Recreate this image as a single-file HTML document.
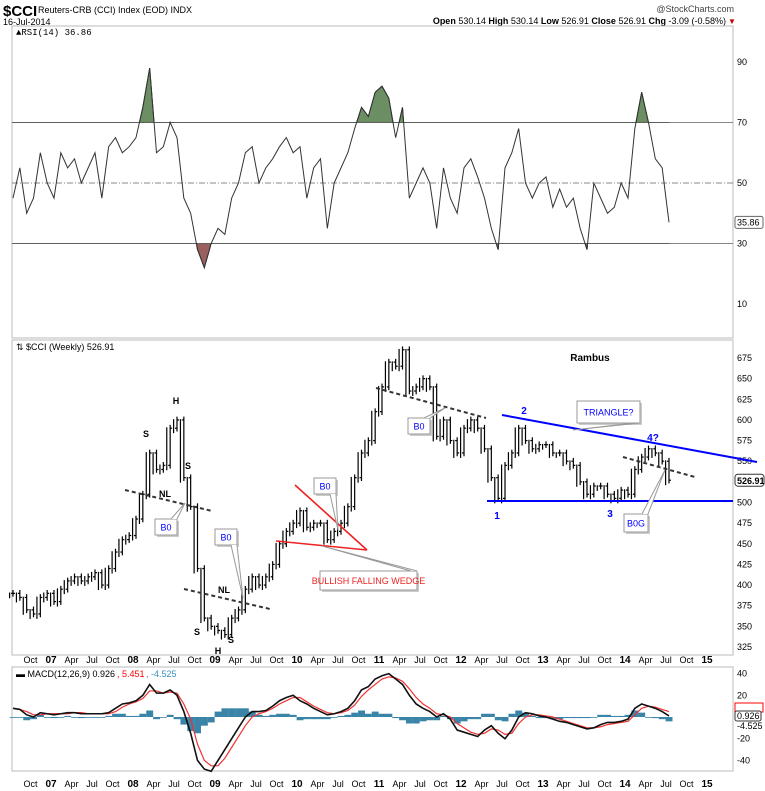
<!DOCTYPE html>
<html><head><meta charset="utf-8"><style>
body{margin:0;background:#fff}
svg{display:block;font-family:"Liberation Sans",sans-serif}
</style></head><body>
<svg id="c" width="765" height="791" viewBox="0 0 765 791">
<text x="3" y="16" font-size="15" font-weight="bold">$CCI</text>
<text x="38" y="13" font-size="9">Reuters-CRB (CCI) Index (EOD) INDX</text>
<text x="3" y="25" font-size="9">16-Jul-2014</text>
<text x="734" y="12" font-size="9" text-anchor="end" fill="#444">@StockCharts.com</text>
<text x="726" y="24" font-size="9" text-anchor="end"><tspan font-weight="bold">Open</tspan> 530.14 <tspan font-weight="bold">High</tspan> 530.14 <tspan font-weight="bold">Low</tspan> 526.91 <tspan font-weight="bold">Close</tspan> 526.91 <tspan font-weight="bold">Chg</tspan> -3.09 (-0.58%)</text>
<text x="728" y="24" font-size="8" fill="#c00">▼</text>
<g id="rsi"></g>
<g id="main"></g>
<g id="macd"></g>
<g id="ann"></g>
</svg>
<script>
const closes=[390,385,370,365,385,390,
380,395,405,410,405,410,415,400,420,440,455,460,
480,510,560,540,545,590,600,530,495,420,360,350,
345,340,360,370,395,410,400,410,425,450,465,475,
490,470,475,475,455,465,475,495,530,560,575,610,
640,670,665,685,635,640,650,640,580,600,575,560,
590,600,590,565,530,505,545,560,590,575,565,570,
570,560,560,550,545,525,510,520,520,510,505,515,
510,540,555,565,560,550,527];
const rsiVals=[45,55,40,45,60,50,
45,60,55,58,50,55,60,45,62,65,60,62,
65,75,88,60,62,70,65,45,40,28,22,30,
35,33,45,50,60,62,50,55,58,62,65,60,
62,45,55,58,35,50,55,60,68,75,72,80,
82,78,65,75,45,50,55,50,35,55,45,40,
55,58,52,45,35,28,55,60,68,50,45,50,
52,42,48,42,45,35,28,50,45,40,42,50,
45,68,80,70,58,55,37];
const macdVals=[8,7,2,0,4,3,
2,3,4,4,3,3,3,3,4,8,12,13,
15,20,30,22,22,25,20,5,-15,-40,-48,-50,
-40,-30,-20,-10,0,5,5,6,10,15,18,20,
15,12,8,5,2,3,5,8,15,25,28,35,
38,40,35,30,20,12,8,5,0,3,-2,-12,
-14,-16,-18,-12,-8,-15,-20,-12,0,4,3,1,
0,-2,-4,-5,-7,-9,-11,-10,-7,-5,-5,-4,
-2,8,12,10,8,5,1];
const signalVals=[8,7,5,2,2,3,
3,3,3,4,4,3,3,3,3,5,9,12,
14,17,24,24,22,23,22,12,-2,-25,-40,-45,
-45,-38,-28,-18,-8,0,3,5,8,12,15,18,
18,14,10,7,4,3,4,6,11,19,25,30,
35,37,36,33,26,18,12,8,3,2,0,-6,
-10,-14,-16,-15,-11,-12,-16,-15,-6,0,2,2,
1,0,-2,-4,-6,-8,-10,-10,-9,-7,-6,-5,
-4,2,8,10,9,7,5];
const priceTicks=[325,350,375,400,425,450,475,500,525,550,575,600,625,650,675];
const rsiTicks=[10,30,50,70,90];
const macdTicks=[-40,-20,20,40];
const xLabels=["Oct","07","Apr","Jul","Oct","08","Apr","Jul","Oct","09","Apr","Jul","Oct","10","Apr","Jul","Oct","11","Apr","Jul","Oct","12","Apr","Jul","Oct","13","Apr","Jul","Oct","14","Apr","Jul","Oct","15"];

const NS="http://www.w3.org/2000/svg";
const L=12,R=733;
function X(i){return 54+(i-6)*82/12;}
function labelX(k){return 51+(k-1)*82/4;}
function yP(v){return 358+(675-v)*0.8257;}
function yR(v){return 62+(90-v)*3.025;}
function yM(v){return 717-v*1.085;}
function mk(p,tag,a){const e=document.createElementNS(NS,tag);for(const k in a)e.setAttribute(k,a[k]);p.appendChild(e);return e;}
function txt(p,x,y,s,a){const e=mk(p,'text',Object.assign({x:x,y:y,'font-size':9},a||{}));e.textContent=s;return e;}

function frame(g,top,bot){
 const r=mk(g,'rect',{x:L,y:top,width:R-L,height:bot-top,fill:'#fff',stroke:'#bbb'});
 
 
}
function xaxis(y){
 const g=mk(document.getElementById('c'),'g',{});
 
 
 xLabels.forEach((s,k)=>{
  const t=txt(g,labelX(k),y,s,{'text-anchor':'middle','font-size':s.length==2?10:9,'font-weight':s.length==2?'bold':'normal'});
  
  
 });
}

// RSI
const rg=document.getElementById('rsi');
frame(rg,26,338);
txt(rg,16,35,'▲RSI(14) 36.86',{'font-family':'Liberation Mono, monospace','font-size':9});
rsiTicks.forEach(v=>{
 const t=txt(rg,737,yR(v)+3,String(v),{'font-size':9});
 
 
});
mk(rg,'line',{x1:L,x2:R,y1:yR(70),y2:yR(70),stroke:'#888'});
mk(rg,'line',{x1:L,x2:R,y1:yR(30),y2:yR(30),stroke:'#888'});
mk(rg,'line',{x1:L,x2:R,y1:yR(50),y2:yR(50),stroke:'#888','stroke-dasharray':'6,2,1,2'});
let pts=rsiVals.map((v,i)=>X(i)+','+yR(v)).join(' ');
const defs=mk(rg,'defs',{});
const c1=mk(defs,'clipPath',{id:'above'});mk(c1,'rect',{x:0,y:0,width:765,height:yR(70)});
const c2=mk(defs,'clipPath',{id:'below'});mk(c2,'rect',{x:0,y:yR(30),width:765,height:300});
const fa=mk(rg,'polygon',{points:X(0)+','+yR(70)+' '+pts+' '+X(rsiVals.length-1)+','+yR(70),fill:'#6b8f63',stroke:'#333','clip-path':'url(#above)'});


const fb=mk(rg,'polygon',{points:X(0)+','+yR(30)+' '+pts+' '+X(rsiVals.length-1)+','+yR(30),fill:'#9a6060',stroke:'#333','clip-path':'url(#below)'});


const rl=mk(rg,'polyline',{points:pts,fill:'none',stroke:'#333','stroke-width':1});


const lastR=rsiVals[rsiVals.length-1];
mk(rg,'rect',{x:735,y:yR(lastR)-6,width:28,height:12,fill:'#fff',stroke:'#666',rx:2});
txt(rg,737,yR(lastR)+3,'35.86',{'font-size':9});

// MAIN
const mg=document.getElementById('main');
frame(mg,340,655);
txt(mg,16,350,'⇅ $CCI (Weekly) 526.91',{'font-size':9});
priceTicks.forEach(v=>{
 const t=txt(mg,737,yP(v)+3,String(v),{'font-size':9});
 
 
});
closes.forEach((v,i)=>{
 const p=i?closes[i-1]:v;
 const hi=Math.max(p,v)+4,lo=Math.min(p,v)-4,x=X(i);
 const b=mk(mg,'g',{stroke:'#000','stroke-width':1.2});
 
 
 mk(b,'line',{x1:x,x2:x,y1:yP(hi),y2:yP(lo)});
 mk(b,'line',{x1:x-2,x2:x,y1:yP(p),y2:yP(p)});
 mk(b,'line',{x1:x,x2:x+2,y1:yP(v),y2:yP(v)});
 const xm=X(i)-3.4;
 mk(b,'line',{x1:xm,x2:xm,y1:yP(Math.max(p,v)+1),y2:yP(Math.min(p,v)-6)});
});
const lastP=closes[closes.length-1];
mk(mg,'rect',{x:735,y:yP(lastP)-6,width:29,height:12,fill:'#fff',stroke:'#333',rx:3});
txt(mg,737,yP(lastP)+4,'526.91',{'font-size':9,'font-weight':'bold'});
xaxis(663);

// MACD
const cg=document.getElementById('macd');
frame(cg,667,771);
txt(cg,16,677,'▬ MACD(12,26,9) 0.926',{'font-size':9});
txt(cg,117,677,', 5.451',{'font-size':9,fill:'red'});
txt(cg,146,677,', -4.525',{'font-size':9,fill:'#3a8fc0'});
macdTicks.forEach(v=>{
 const t=txt(cg,737,yM(v)+3,String(v),{'font-size':9});
 
 
});
macdVals.forEach((v,i)=>{
 const h=v-signalVals[i];
 const r=mk(cg,'rect',{x:X(i)-3.4,width:6.9,y:Math.min(yM(0),yM(h)),height:Math.max(0.8,Math.abs(yM(h)-yM(0))),fill:'#3a84a8'});
 
 
});
const sl=mk(cg,'polyline',{points:signalVals.map((v,i)=>X(i)+','+yM(v)).join(' '),fill:'none',stroke:'#e33','stroke-width':1.2});


const ml=mk(cg,'polyline',{points:macdVals.map((v,i)=>X(i)+','+yM(v)).join(' '),fill:'none',stroke:'#111','stroke-width':1.6});


mk(cg,'rect',{x:735,y:703,width:28,height:9,fill:'#fff',stroke:'red'});
mk(cg,'rect',{x:735,y:711,width:26,height:10,fill:'#fff',stroke:'#333',rx:2});
txt(cg,737,719,'0.926',{'font-size':9});
txt(cg,737,729,'-4.525',{'font-size':9});
xaxis(787);

// Annotations
const ag=document.getElementById('ann');
function ln(x1,y1,x2,y2,col,w,dash,name){const e=mk(ag,'line',{x1,y1,x2,y2,stroke:col,'stroke-width':w});if(dash)e.setAttribute('stroke-dasharray',dash);}
function box(x,y,w,h,s,col,px,py,name){
 const g=mk(ag,'g',{});
 mk(g,'rect',{x:x+2,y:y+2,width:w,height:h,fill:'#ccc'});
 mk(g,'rect',{x,y,width:w,height:h,fill:'#fff',stroke:'#999'});
 mk(g,'polyline',{points:(x+w-6)+','+(y+(py<y?0:h))+' '+px+','+py+' '+(x+w)+','+(y+(py<y?0:h)),fill:'#fff',stroke:'#999'});
 txt(g,x+w/2,y+h/2+3.5,s,{'text-anchor':'middle','font-size':9,fill:col});
}
ln(125,490,212,511,'#333',2,'4,3','neckline-2008');
ln(184,589,270,609,'#333',2,'4,3','neckline-2009');
ln(376,388,486,418,'#333',2,'4,3','trendline-2011');
ln(623,457,695,477,'#333',2,'4,3','trendline-2014');
ln(295,485,367,550,'#e22',1.6,null,'wedge-upper');
ln(276,541,367,550,'#e22',1.6,null,'wedge-lower');
ln(502,415,757,462,'#00f',2,null,'triangle-top');
ln(487,501,733,501,'#00f',2,null,'triangle-support');
[['H',176,404],['S',146,437],['S',188,469],['NL',165,497],['NL',224,593],['S',197,635],['H',218,654],['S',231,643]].forEach(a=>{const t=txt(ag,a[1],a[2],a[0],{'font-size':9,'font-weight':'bold','text-anchor':'middle'});});
[['2',524,414],['1',497,519],['3',610,517],['4?',653,441]].forEach(a=>{const t=txt(ag,a[1],a[2],a[0],{'font-size':10,'font-weight':'bold','fill':'#00f','text-anchor':'middle'});});
const rb=txt(ag,590,361,'Rambus',{'font-size':10,'font-weight':'bold','text-anchor':'middle'});


box(155,519,22,16,'B0','#00f',185,503,'breakout-callout-2008');
box(215,529,22,16,'B0','#00f',243,598,'breakout-callout-2009');
box(314,478,22,16,'B0','#00f',338,530,'breakout-callout-2010');
box(408,418,22,16,'B0','#00f',445,408,'breakout-callout-2011');
box(577,401,63,22,'TRIANGLE?','#00f',573,430,'triangle-callout');
box(624,514,24,18,'B0G','#00f',665,470,'bog-callout');
box(320,571,97,19,'BULLISH FALLING WEDGE','#e22',322,546,'wedge-callout');
</script>
</body></html>
